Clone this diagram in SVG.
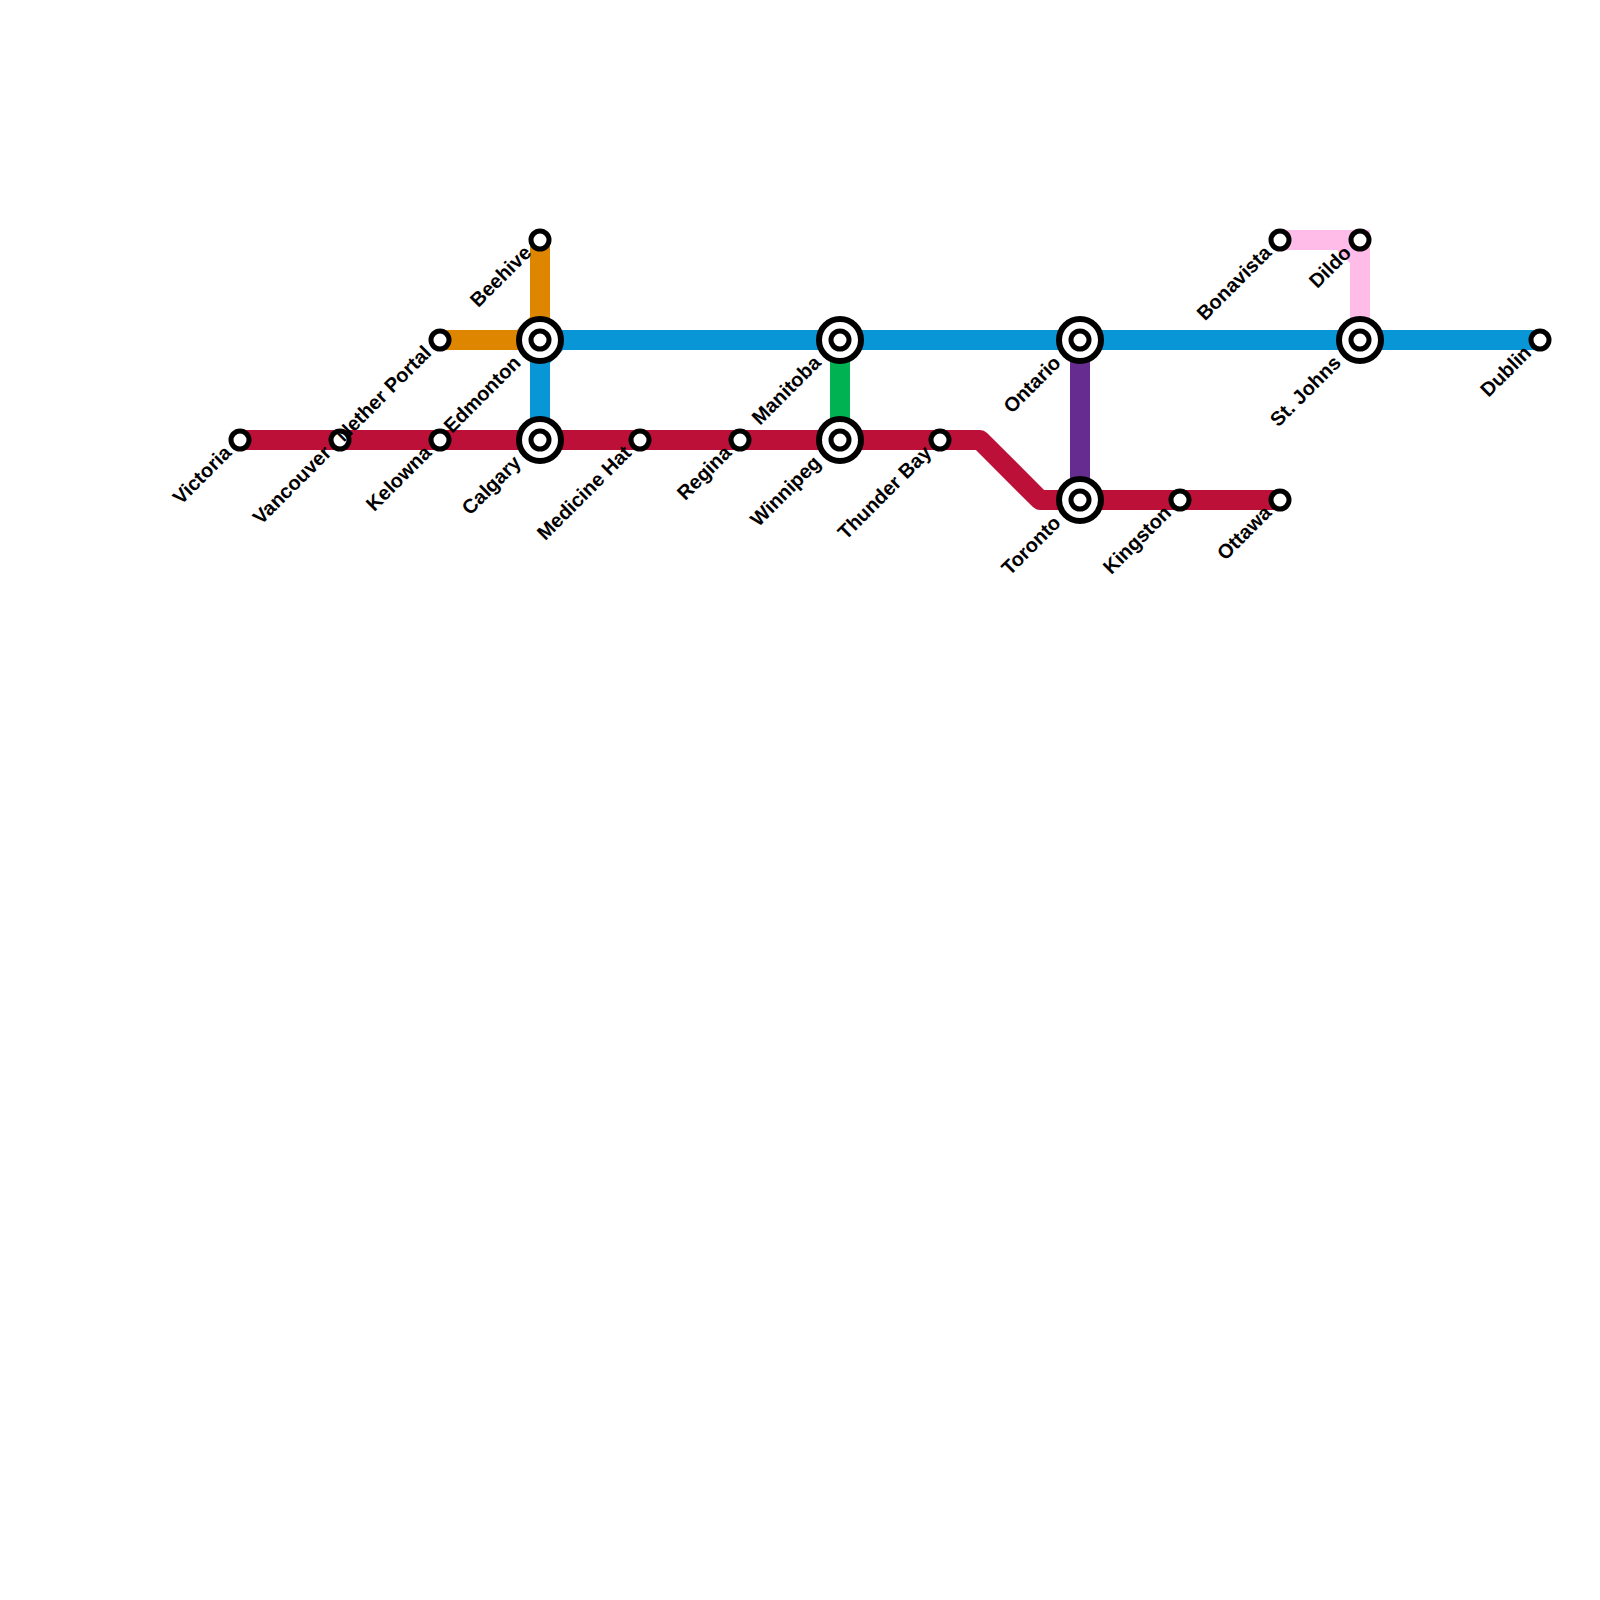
<svg xmlns="http://www.w3.org/2000/svg" width="1600" height="1600" viewBox="0 0 1600 1600">
<style>
.line{fill:none;stroke-width:20;stroke-linejoin:miter;stroke-linecap:butt}
.bend{stroke-linejoin:round}
.ring{fill:#fff;stroke:#000;stroke-width:6}
.dot{fill:#fff;stroke:#000;stroke-width:5}
text{font-family:"Liberation Sans",Arial,sans-serif;font-weight:700;font-size:20px;fill:#000;text-anchor:end;text-rendering:geometricPrecision;opacity:.999}
</style>
<rect width="1600" height="1600" fill="#fff"/>
<g id="connectors">
<path class="line" stroke="#df8600" d="M540 240V340H440"/>
<polygon fill="#df8600" points="517,330 530,317 530,330"/>
<path class="line" stroke="#0896d7" d="M540 440V340H1540"/>
<polygon fill="#0896d7" points="563,350 550,363 550,350"/>
<path class="line" stroke="#00b251" d="M840 340V440"/>
<path class="line" stroke="#662c90" d="M1080 340V500"/>
<path class="line bend" stroke="#bd1038" d="M240 440H980L1040 500H1280"/>
<path class="line" stroke="#ffbce8" d="M1280 240H1360V340"/>
<polygon fill="#ffbce8" points="1337,250 1350,263 1350,250"/>
</g>
<g id="victoria"><circle class="dot" cx="240" cy="440" r="9"/><text transform="translate(232.5 454) rotate(-45)">Victoria</text></g>
<g id="vancouver"><circle class="dot" cx="340" cy="440" r="9"/><text transform="translate(332.5 454) rotate(-45)">Vancouver</text></g>
<g id="kelowna"><circle class="dot" cx="440" cy="440" r="9"/><text transform="translate(432.5 454) rotate(-45)">Kelowna</text></g>
<g id="calgary"><circle class="ring" cx="540" cy="440" r="21"/><circle class="dot" cx="540" cy="440" r="9"/><text transform="translate(522 464) rotate(-45)">Calgary</text></g>
<g id="medicine-hat"><circle class="dot" cx="640" cy="440" r="9"/><text transform="translate(632.5 454) rotate(-45)">Medicine Hat</text></g>
<g id="regina"><circle class="dot" cx="740" cy="440" r="9"/><text transform="translate(732.5 454) rotate(-45)">Regina</text></g>
<g id="winnipeg"><circle class="ring" cx="840" cy="440" r="21"/><circle class="dot" cx="840" cy="440" r="9"/><text transform="translate(822 464) rotate(-45)">Winnipeg</text></g>
<g id="thunder-bay"><circle class="dot" cx="940" cy="440" r="9"/><text transform="translate(932.5 454) rotate(-45)">Thunder Bay</text></g>
<g id="toronto"><circle class="ring" cx="1080" cy="500" r="21"/><circle class="dot" cx="1080" cy="500" r="9"/><text transform="translate(1062 524) rotate(-45)">Toronto</text></g>
<g id="kingston"><circle class="dot" cx="1180" cy="500" r="9"/><text transform="translate(1172.5 514) rotate(-45)">Kingston</text></g>
<g id="ottawa"><circle class="dot" cx="1280" cy="500" r="9"/><text transform="translate(1272.5 514) rotate(-45)">Ottawa</text></g>
<g id="beehive"><circle class="dot" cx="540" cy="240" r="9"/><text transform="translate(532.5 254) rotate(-45)">Beehive</text></g>
<g id="nether-portal"><circle class="dot" cx="440" cy="340" r="9"/><text transform="translate(432.5 354) rotate(-45)">Nether Portal</text></g>
<g id="edmonton"><circle class="ring" cx="540" cy="340" r="21"/><circle class="dot" cx="540" cy="340" r="9"/><text transform="translate(522 364) rotate(-45)">Edmonton</text></g>
<g id="manitoba"><circle class="ring" cx="840" cy="340" r="21"/><circle class="dot" cx="840" cy="340" r="9"/><text transform="translate(822 364) rotate(-45)">Manitoba</text></g>
<g id="ontario"><circle class="ring" cx="1080" cy="340" r="21"/><circle class="dot" cx="1080" cy="340" r="9"/><text transform="translate(1062 364) rotate(-45)">Ontario</text></g>
<g id="st-johns"><circle class="ring" cx="1360" cy="340" r="21"/><circle class="dot" cx="1360" cy="340" r="9"/><text transform="translate(1342 364) rotate(-45)">St. Johns</text></g>
<g id="dublin"><circle class="dot" cx="1540" cy="340" r="9"/><text transform="translate(1532.5 354) rotate(-45)">Dublin</text></g>
<g id="bonavista"><circle class="dot" cx="1280" cy="240" r="9"/><text transform="translate(1272.5 254) rotate(-45)">Bonavista</text></g>
<g id="dildo"><circle class="dot" cx="1360" cy="240" r="9"/><text transform="translate(1352.5 254) rotate(-45)">Dildo</text></g>
</svg>
